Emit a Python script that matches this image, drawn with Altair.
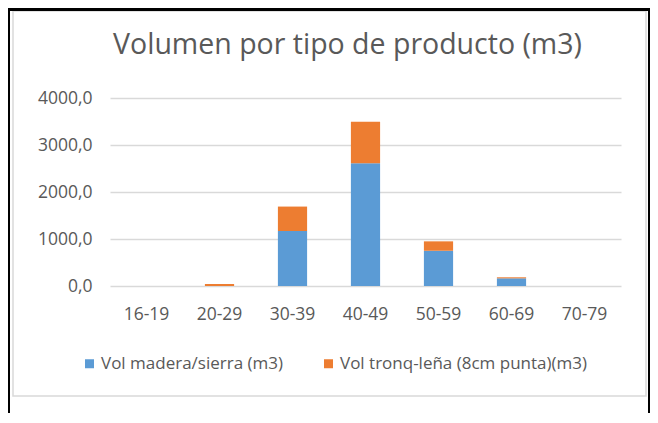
import altair as alt
import pandas as pd

categories = ["16-19", "20-29", "30-39", "40-49", "50-59", "60-69", "70-79"]
series_names = ["Vol madera/sierra (m3)", "Vol tronq-leña (8cm punta)(m3)"]
vol_madera = [0, 0, 1170, 2610, 750, 163, 0]
vol_lena = [0, 40, 520, 886, 200, 22, 0]
y_ticks = [0, 1000, 2000, 3000, 4000]
colors = ["#5B9BD5", "#ED7D31"]

rows = []
for i, c in enumerate(categories):
    rows.append({"cat": c, "serie": series_names[0], "val": vol_madera[i], "idx": 0})
    rows.append({"cat": c, "serie": series_names[1], "val": vol_lena[i], "idx": 1})
df = pd.DataFrame(rows)

FONT = "Open Sans"
TXT = "#595959"

bars = alt.Chart(df).mark_bar().encode(
    x=alt.X("cat:N", sort=categories, title=None,
            scale=alt.Scale(paddingInner=0.6, paddingOuter=0.3),
            axis=alt.Axis(labelAngle=0, ticks=False, domain=False, grid=False,
                          labelFont=FONT, labelFontSize=17.5, labelColor=TXT,
                          labelPadding=19)),
    y=alt.Y("val:Q", stack="zero", title=None,
            scale=alt.Scale(domain=[0, 4000], nice=False),
            axis=alt.Axis(values=y_ticks, ticks=False, domain=False,
                          gridColor="#d9d9d9", gridWidth=1.5,
                          labelFont=FONT, labelFontSize=17.5, labelColor=TXT,
                          labelPadding=18,
                          labelExpr="replace(format(datum.value, '.1f'), '.', ',')")),
    color=alt.Color("serie:N", title=None,
                    scale=alt.Scale(domain=series_names, range=colors),
                    legend=alt.Legend(orient="none", direction="horizontal",
                                      legendX=-29, legendY=257,
                                      symbolType="square", symbolSize=81,
                                      symbolStrokeWidth=0, padding=0,
                                      labelFont=FONT, labelFontSize=17,
                                      labelColor=TXT, labelOffset=3,
                                      columnPadding=36, labelLimit=400)),
    order=alt.Order("idx:Q", sort="ascending"),
)

one = alt.Data(values=[{"k": 0}])

frame = alt.Chart(one).mark_rect(fill=None, stroke="#d9d9d9", strokeWidth=1.5).encode(
    x=alt.value(-97), x2=alt.value(536), y=alt.value(-87), y2=alt.value(298)
)
left_line = alt.Chart(one).mark_rect(color="black").encode(
    x=alt.value(-102), x2=alt.value(-100), y=alt.value(-90), y2=alt.value(330)
)
right_line = alt.Chart(one).mark_rect(color="black").encode(
    x=alt.value(538), x2=alt.value(540), y=alt.value(-90), y2=alt.value(330)
)
top_line = alt.Chart(one).mark_rect(color="black").encode(
    x=alt.value(-102), x2=alt.value(540), y=alt.value(-90), y2=alt.value(-87)
)

chart = alt.layer(frame, left_line, right_line, top_line, bars).properties(
    width=511,
    height=188,
    autosize=alt.AutoSizeParams(type="none"),
    padding={"left": 102, "top": 90, "right": 29, "bottom": 127},
    title=alt.TitleParams("Volumen por tipo de producto (m3)", font=FONT,
                          fontSize=28.5, fontWeight="normal", color=TXT,
                          anchor="middle", frame="group", baseline="alphabetic",
                          dx=-18, dy=74, offset=0),
).configure_view(stroke=None)

chart.save("out.html", embed_options={"renderer": "svg", "actions": False})
